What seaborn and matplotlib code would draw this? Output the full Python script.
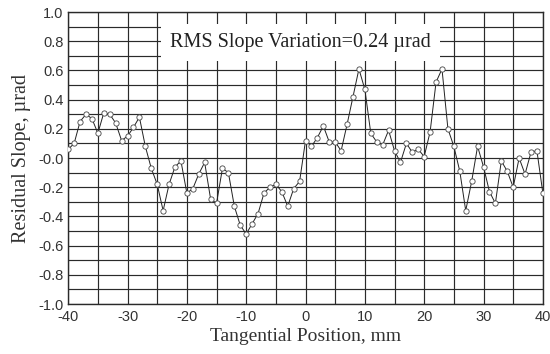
import numpy as np
import pandas as pd
import matplotlib
matplotlib.use("Agg")
import matplotlib.pyplot as plt
from matplotlib.ticker import MultipleLocator, FixedLocator, FixedFormatter
import seaborn as sns

# tangential position, 1 mm step
position_mm = list(range(-40, 41))
residual_slope = [
    0.06, 0.10, 0.25, 0.30, 0.27, 0.17, 0.31, 0.30, 0.24, 0.12,
    0.15, 0.21, 0.28, 0.08, -0.07, -0.18, -0.36, -0.18, -0.06, -0.02,
    -0.24, -0.21, -0.11, -0.03, -0.28, -0.31, -0.07, -0.10, -0.33, -0.46,
    -0.52, -0.45, -0.38, -0.24, -0.20, -0.18, -0.23, -0.33, -0.21, -0.16,
    0.12, 0.08, 0.14, 0.22, 0.11, 0.11, 0.05, 0.23, 0.42, 0.61,
    0.47, 0.17, 0.11, 0.09, 0.19, 0.05, -0.03, 0.10, 0.04, 0.06,
    0.01, 0.18, 0.52, 0.61, 0.20, 0.08, -0.09, -0.36, -0.16, 0.08,
    -0.06, -0.23, -0.31, -0.02, -0.09, -0.20, 0.00, -0.11, 0.04, 0.05,
    -0.24,
]
y_ticks = [-1.0, -0.8, -0.6, -0.4, -0.2, 0.0, 0.2, 0.4, 0.6, 0.8, 1.0]
y_tick_labels = ["-1.0", "-0.8", "-0.6", "-0.4", "-0.2", "-0.0",
                 "0.2", "0.4", "0.6", "0.8", "1.0"]
x_ticks = [-40, -30, -20, -10, 0, 10, 20, 30, 40]
rms_text = "RMS Slope Variation=0.24 \u00b5rad"

df = pd.DataFrame({"pos": position_mm, "slope": residual_slope})

sns.set_style("white")
plt.rcParams["font.family"] = ["Liberation Sans", "DejaVu Sans"]
plt.rcParams["axes.unicode_minus"] = False

fig = plt.figure(figsize=(5.5, 3.54), dpi=100)
ax = fig.add_axes([0.124, 0.141, 0.863, 0.825])

grid_c = "#2a2a2a"
sns.lineplot(data=df, x="pos", y="slope", ax=ax, color="#222222", lw=0.7,
             marker="o", markersize=3.8, markerfacecolor="white",
             markeredgecolor="#444444", markeredgewidth=0.6, zorder=3)

ax.set_xlim(-40, 40)
ax.set_ylim(-1.0, 1.0)
ax.xaxis.set_major_locator(FixedLocator(x_ticks))
ax.xaxis.set_minor_locator(MultipleLocator(5))
ax.yaxis.set_major_locator(FixedLocator(y_ticks))
ax.yaxis.set_major_formatter(FixedFormatter(y_tick_labels))
ax.yaxis.set_minor_locator(MultipleLocator(0.1))
ax.grid(True, which="both", color=grid_c, lw=0.85)
ax.tick_params(which="both", length=0, labelsize=10.5, labelcolor="#333333")
ax.tick_params(axis="x", pad=4)
ax.tick_params(axis="y", pad=3.5)
for s in ax.spines.values():
    s.set_color(grid_c)
    s.set_linewidth(1.0)

ax.set_xlabel("Tangential Position, mm", family=["Liberation Serif"], fontsize=14,
              color="#333333", labelpad=3)
ax.set_ylabel("Residual Slope, \u00b5rad", family=["Liberation Serif"], fontsize=14.5,
              color="#333333", labelpad=5)

ax.text(-0.8, 0.79, rms_text, ha="center", va="center", fontsize=14.5,
        family=["Liberation Serif"], color="#222222", zorder=4,
        bbox=dict(boxstyle="square,pad=0.45", fc="white", ec="none"))

fig.savefig("out.png", dpi=100)
